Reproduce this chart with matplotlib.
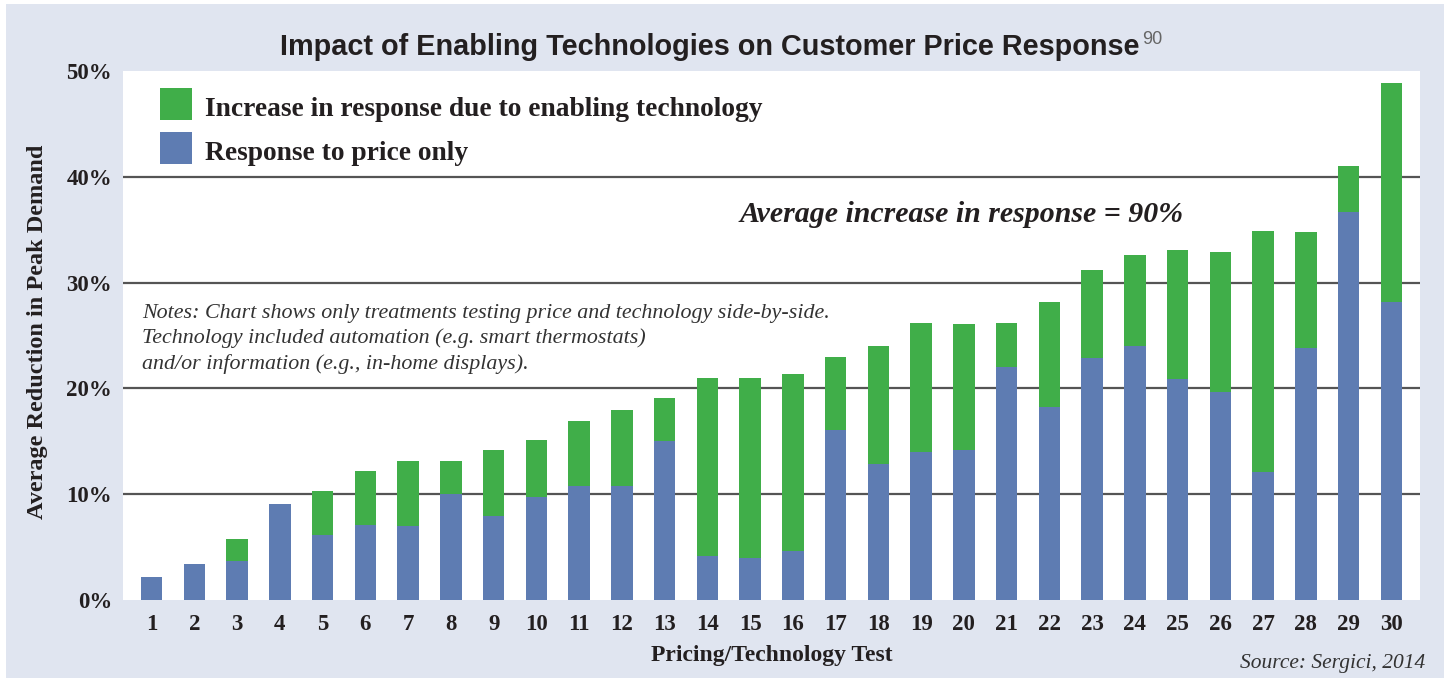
import matplotlib
matplotlib.use("Agg")
import matplotlib.pyplot as plt
from matplotlib.patches import Rectangle
import numpy as np

tests = list(range(1, 31))
price_only = [2.2, 3.4, 3.7, 9.1, 6.1, 7.1, 7.0, 10.0, 7.9, 9.7,
              10.8, 10.8, 15.0, 4.2, 4.0, 4.6, 16.1, 12.9, 14.0, 14.2,
              22.0, 18.2, 22.9, 24.0, 20.9, 19.7, 12.1, 23.8, 36.7, 28.2]
total = [2.2, 3.4, 5.8, 9.1, 10.3, 12.2, 13.1, 13.1, 14.2, 15.1,
         16.9, 18.0, 19.1, 21.0, 21.0, 21.4, 23.0, 24.0, 26.2, 26.1,
         26.2, 28.2, 31.2, 32.6, 33.1, 32.9, 34.9, 34.8, 41.0, 48.9]
tech_increase = [t - p for t, p in zip(total, price_only)]
yticks = [0, 10, 20, 30, 40, 50]
ytick_labels = ["0%", "10%", "20%", "30%", "40%", "50%"]
legend_labels = ["Increase in response due to enabling technology",
                 "Response to price only"]

GREEN = "#40AE49"
BLUE = "#5E7CB2"
BG = "#E0E5F0"
INK = "#231F20"
SERIF = ["Liberation Serif", "DejaVu Serif"]
SANS = ["Liberation Sans", "DejaVu Sans"]

W, H = 1449, 682
fig = plt.figure(figsize=(W / 100, H / 100), dpi=100)
fig.patch.set_facecolor("white")
fig.patches.append(Rectangle((6 / W, 4 / H), (1444 - 6) / W, (678 - 4) / H,
                             transform=fig.transFigure, facecolor=BG,
                             edgecolor="none", zorder=-10))

ax = fig.add_axes([123 / W, (H - 600) / H, (1420 - 123) / W, (600 - 71) / H])
ax.set_facecolor("white")
for s in ax.spines.values():
    s.set_visible(False)

x = np.array(tests)
ax.bar(x, price_only, width=0.5, color=BLUE, zorder=3)
ax.bar(x, tech_increase, width=0.5, bottom=price_only, color=GREEN, zorder=3)

for v in yticks[1:-1]:
    ax.axhline(v, color="#555555", lw=1.6, zorder=1)

ax.set_xlim(0.33, 30.67)
ax.set_ylim(0, 50)
ax.set_yticks(yticks)
ax.set_yticklabels(ytick_labels, fontfamily=SERIF, fontweight="bold",
                   fontsize=16.5, color=INK)
ax.set_xticks(x)
ax.set_xticklabels([str(t) for t in tests], fontfamily=SERIF,
                   fontweight="bold", fontsize=16.5, color=INK)
ax.tick_params(axis="y", length=0, pad=8)
ax.tick_params(axis="x", length=0, pad=10)

ax.set_xlabel("Pricing/Technology Test", fontfamily=SERIF, fontweight="bold",
              fontsize=17, color=INK, labelpad=7)
fig.text(38 / W, 1 - 332 / H, "Average Reduction in Peak Demand",
         rotation=90, ha="center", va="center", fontfamily=SERIF,
         fontweight="bold", fontsize=17.5, color=INK)

# Legend (manual squares + labels)
for (ytop, col, lab) in [(88, GREEN, legend_labels[0]),
                         (132, BLUE, legend_labels[1])]:
    fig.patches.append(Rectangle((160 / W, 1 - (ytop + 32) / H), 32 / W, 32 / H,
                                 transform=fig.transFigure, facecolor=col,
                                 edgecolor="none", zorder=5))
    fig.text(205 / W, 1 - (ytop + 28) / H, lab, ha="left", va="baseline",
             fontfamily=SERIF, fontweight="bold", fontsize=19.8, color=INK)

# Annotation
fig.text(740 / W, 1 - 222 / H, "Average increase in response = 90%",
         ha="left", va="baseline", fontfamily=SERIF, fontweight="bold",
         fontstyle="italic", fontsize=21.5, color=INK)

notes = ("Notes: Chart shows only treatments testing price and technology side-by-side.\n"
         "Technology included automation (e.g. smart thermostats)\n"
         "and/or information (e.g., in-home displays).")
fig.text(142 / W, 1 - 304 / H, notes, ha="left", va="top",
         fontfamily=SERIF, fontstyle="italic", fontsize=15.8, color="#333333",
         linespacing=1.38)

fig.text(1425 / W, 1 - 668 / H, "Source: Sergici, 2014", ha="right",
         va="baseline", fontfamily=SERIF, fontstyle="italic", fontsize=15.5,
         color="#333333")

# Title with superscript
title = fig.text(710 / W, 1 - 55 / H,
                 "Impact of Enabling Technologies on Customer Price Response",
                 ha="center", va="baseline", fontfamily=SANS,
                 fontweight="bold", fontsize=20.8, color=INK)
fig.canvas.draw()
bb = title.get_window_extent(renderer=fig.canvas.get_renderer())
fig.text(bb.x1 / W + 2 / W, 1 - 44 / H, "90", ha="left", va="baseline",
         fontfamily=SANS, fontsize=13, color="#666666")

fig.savefig("out.png", dpi=100, facecolor=fig.get_facecolor())
